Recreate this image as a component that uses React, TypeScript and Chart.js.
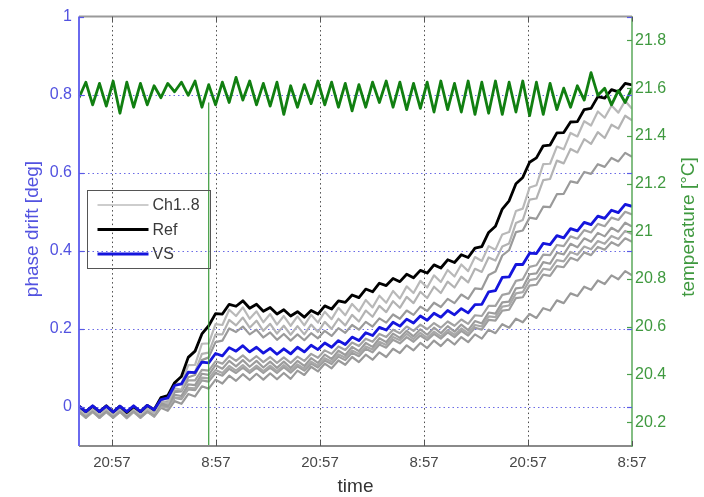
import React, { useEffect, useRef } from 'react';
import { Chart, registerables } from 'chart.js';

Chart.register(...registerables);

// time axis: hours relative to the first "20:57" tick
const START_HOUR = -3.8;
const END_HOUR = 60;
const STEP_HOURS = (END_HOUR - START_HOUR) / 81;

const X_TICK_VALUES = [0, 12, 24, 36, 48, 60];
const X_TICK_LABELS = ['20:57', '8:57', '20:57', '8:57', '20:57', '8:57'];
const LEFT_TICK_VALUES = [0, 0.2, 0.4, 0.6, 0.8, 1];
const LEFT_TICK_LABELS = ['0', '0.2', '0.4', '0.6', '0.8', '1'];
const RIGHT_TICK_VALUES = [20.2, 20.4, 20.6, 20.8, 21, 21.2, 21.4, 21.6, 21.8];
const RIGHT_TICK_LABELS = ['20.2', '20.4', '20.6', '20.8', '21', '21.2', '21.4', '21.6', '21.8'];
const LEGEND_LABELS = ['Ch1..8', 'Ref', 'VS'];

const REF = [
  0.002, -0.012, 0.002, -0.012, 0.003, -0.013, 0.002, -0.014, 0.001, -0.012,
  0.004, -0.007, 0.024, 0.029, 0.062, 0.078, 0.127, 0.143, 0.187, 0.208,
  0.239, 0.238, 0.263, 0.258, 0.272, 0.253, 0.263, 0.245, 0.255, 0.238,
  0.249, 0.233, 0.244, 0.230, 0.247, 0.238, 0.259, 0.251, 0.272, 0.268,
  0.287, 0.280, 0.302, 0.295, 0.317, 0.311, 0.329, 0.321, 0.340, 0.331,
  0.350, 0.343, 0.364, 0.356, 0.377, 0.370, 0.390, 0.383, 0.407, 0.411,
  0.447, 0.463, 0.507, 0.528, 0.572, 0.588, 0.627, 0.638, 0.669, 0.671,
  0.702, 0.703, 0.730, 0.731, 0.762, 0.765, 0.795, 0.791, 0.813, 0.807,
  0.829, 0.825,
];

const VS = [
  0.002, -0.012, 0.003, -0.012, 0.002, -0.013, 0.002, -0.012, 0.003, -0.012,
  0.004, -0.007, 0.019, 0.023, 0.055, 0.059, 0.089, 0.088, 0.115, 0.113,
  0.137, 0.131, 0.152, 0.143, 0.157, 0.141, 0.153, 0.138, 0.150, 0.135,
  0.149, 0.136, 0.153, 0.141, 0.158, 0.147, 0.164, 0.153, 0.170, 0.160,
  0.179, 0.170, 0.190, 0.183, 0.204, 0.197, 0.217, 0.207, 0.225, 0.215,
  0.233, 0.222, 0.240, 0.230, 0.247, 0.236, 0.252, 0.241, 0.262, 0.263,
  0.295, 0.298, 0.332, 0.333, 0.365, 0.365, 0.394, 0.393, 0.419, 0.416,
  0.439, 0.433, 0.457, 0.451, 0.473, 0.467, 0.489, 0.483, 0.504, 0.498,
  0.519, 0.514,
];

const CH1 = [
  -0.001, -0.016, -0.001, -0.016, -0.001, -0.016, -0.001, -0.016, -0.001, -0.016,
  -0.001, -0.012, 0.024, 0.018, 0.062, 0.058, 0.107, 0.108, 0.162, 0.163,
  0.212, 0.210, 0.249, 0.233, 0.255, 0.226, 0.245, 0.217, 0.238, 0.211,
  0.233, 0.208, 0.232, 0.209, 0.236, 0.216, 0.244, 0.225, 0.254, 0.235,
  0.264, 0.245, 0.274, 0.255, 0.285, 0.267, 0.297, 0.278, 0.309, 0.292,
  0.323, 0.306, 0.337, 0.320, 0.351, 0.334, 0.365, 0.348, 0.384, 0.374,
  0.412, 0.403, 0.442, 0.448, 0.502, 0.508, 0.562, 0.568, 0.622, 0.623,
  0.667, 0.660, 0.702, 0.693, 0.732, 0.721, 0.757, 0.741, 0.772, 0.754,
  0.784, 0.764,
];

const CH2 = [
  -0.005, -0.019, -0.005, -0.019, -0.005, -0.019, -0.005, -0.019, -0.005, -0.019,
  -0.005, -0.016, 0.016, 0.009, 0.048, 0.044, 0.088, 0.089, 0.136, 0.139,
  0.186, 0.186, 0.223, 0.209, 0.229, 0.203, 0.221, 0.195, 0.213, 0.188,
  0.208, 0.185, 0.207, 0.186, 0.211, 0.192, 0.218, 0.200, 0.226, 0.209,
  0.236, 0.219, 0.247, 0.231, 0.259, 0.243, 0.271, 0.254, 0.282, 0.266,
  0.295, 0.279, 0.308, 0.292, 0.321, 0.306, 0.334, 0.319, 0.354, 0.346,
  0.383, 0.375, 0.411, 0.419, 0.471, 0.479, 0.531, 0.534, 0.581, 0.584,
  0.631, 0.624, 0.661, 0.652, 0.686, 0.674, 0.704, 0.689, 0.723, 0.713,
  0.746, 0.734,
];

const CH3 = [
  -0.008, -0.022, -0.008, -0.022, -0.008, -0.023, -0.008, -0.022, -0.007, -0.022,
  -0.008, -0.016, 0.008, 0.007, 0.038, 0.040, 0.076, 0.082, 0.120, 0.127,
  0.166, 0.170, 0.201, 0.192, 0.206, 0.186, 0.198, 0.178, 0.191, 0.172,
  0.187, 0.170, 0.186, 0.171, 0.189, 0.176, 0.195, 0.182, 0.202, 0.190,
  0.210, 0.198, 0.218, 0.206, 0.227, 0.216, 0.237, 0.226, 0.247, 0.236,
  0.257, 0.246, 0.267, 0.256, 0.277, 0.266, 0.288, 0.277, 0.304, 0.302,
  0.338, 0.347, 0.388, 0.402, 0.448, 0.452, 0.485, 0.482, 0.513, 0.512,
  0.545, 0.546, 0.578, 0.574, 0.602, 0.597, 0.622, 0.615, 0.638, 0.629,
  0.651, 0.641,
];

const CH4 = [
  -0.005, -0.019, -0.005, -0.019, -0.006, -0.019, -0.005, -0.020, -0.005, -0.019,
  -0.005, -0.013, 0.013, 0.013, 0.041, 0.041, 0.068, 0.068, 0.095, 0.093,
  0.117, 0.111, 0.130, 0.118, 0.132, 0.117, 0.130, 0.115, 0.128, 0.113,
  0.127, 0.113, 0.129, 0.118, 0.136, 0.126, 0.145, 0.136, 0.155, 0.146,
  0.165, 0.156, 0.175, 0.167, 0.187, 0.179, 0.198, 0.189, 0.206, 0.195,
  0.211, 0.199, 0.215, 0.203, 0.219, 0.208, 0.224, 0.213, 0.235, 0.233,
  0.259, 0.259, 0.287, 0.291, 0.323, 0.327, 0.359, 0.363, 0.390, 0.389,
  0.415, 0.412, 0.437, 0.431, 0.453, 0.447, 0.469, 0.463, 0.485, 0.479,
  0.500, 0.493,
];

const CH5 = [
  -0.010, -0.026, -0.010, -0.026, -0.010, -0.027, -0.010, -0.026, -0.009, -0.026,
  -0.010, -0.020, 0.006, 0.002, 0.031, 0.028, 0.058, 0.056, 0.085, 0.082,
  0.107, 0.098, 0.118, 0.104, 0.120, 0.103, 0.118, 0.101, 0.116, 0.100,
  0.116, 0.100, 0.118, 0.105, 0.125, 0.113, 0.134, 0.123, 0.144, 0.133,
  0.154, 0.143, 0.164, 0.154, 0.176, 0.166, 0.188, 0.177, 0.195, 0.181,
  0.199, 0.185, 0.203, 0.189, 0.207, 0.193, 0.211, 0.197, 0.220, 0.214,
  0.242, 0.239, 0.268, 0.270, 0.304, 0.306, 0.340, 0.342, 0.371, 0.367,
  0.395, 0.391, 0.418, 0.409, 0.432, 0.423, 0.446, 0.437, 0.459, 0.449,
  0.472, 0.462,
];

const CH6 = [
  -0.013, -0.027, -0.013, -0.028, -0.013, -0.027, -0.013, -0.028, -0.013, -0.027,
  -0.013, -0.022, 0.001, -0.002, 0.024, 0.022, 0.049, 0.048, 0.075, 0.073,
  0.095, 0.087, 0.105, 0.093, 0.107, 0.092, 0.106, 0.092, 0.106, 0.092,
  0.107, 0.093, 0.109, 0.098, 0.116, 0.106, 0.125, 0.116, 0.135, 0.126,
  0.145, 0.136, 0.155, 0.147, 0.167, 0.159, 0.179, 0.171, 0.187, 0.174,
  0.190, 0.177, 0.193, 0.181, 0.197, 0.185, 0.201, 0.189, 0.210, 0.206,
  0.232, 0.230, 0.257, 0.260, 0.291, 0.294, 0.325, 0.328, 0.354, 0.351,
  0.376, 0.373, 0.397, 0.390, 0.411, 0.404, 0.425, 0.418, 0.438, 0.430,
  0.451, 0.443,
];

const CH7 = [
  -0.009, -0.023, -0.009, -0.024, -0.009, -0.023, -0.009, -0.023, -0.010, -0.023,
  -0.009, -0.019, 0.003, -0.001, 0.023, 0.020, 0.045, 0.043, 0.068, 0.065,
  0.087, 0.080, 0.098, 0.087, 0.101, 0.087, 0.101, 0.087, 0.101, 0.087,
  0.102, 0.088, 0.104, 0.093, 0.111, 0.101, 0.119, 0.110, 0.129, 0.120,
  0.139, 0.130, 0.149, 0.140, 0.160, 0.152, 0.172, 0.163, 0.179, 0.167,
  0.183, 0.171, 0.187, 0.175, 0.191, 0.179, 0.195, 0.183, 0.203, 0.198,
  0.223, 0.221, 0.247, 0.249, 0.279, 0.281, 0.311, 0.313, 0.339, 0.336,
  0.361, 0.358, 0.382, 0.375, 0.396, 0.389, 0.410, 0.403, 0.422, 0.413,
  0.432, 0.423,
];

const CH8 = [
  -0.012, -0.028, -0.012, -0.028, -0.013, -0.028, -0.012, -0.029, -0.012, -0.028,
  -0.012, -0.025, -0.002, -0.010, 0.015, 0.008, 0.033, 0.027, 0.053, 0.047,
  0.070, 0.060, 0.080, 0.067, 0.084, 0.069, 0.085, 0.070, 0.086, 0.071,
  0.087, 0.072, 0.093, 0.082, 0.103, 0.091, 0.111, 0.099, 0.119, 0.108,
  0.128, 0.115, 0.134, 0.121, 0.140, 0.128, 0.149, 0.138, 0.158, 0.145,
  0.164, 0.151, 0.170, 0.156, 0.174, 0.160, 0.179, 0.166, 0.186, 0.175,
  0.198, 0.189, 0.212, 0.203, 0.226, 0.217, 0.238, 0.228, 0.253, 0.247,
  0.273, 0.266, 0.291, 0.284, 0.308, 0.300, 0.324, 0.315, 0.337, 0.327,
  0.348, 0.337,
];

const TEMP = [
  21.56, 21.625, 21.53, 21.62, 21.525, 21.63, 21.495, 21.625, 21.52, 21.62,
  21.53, 21.61, 21.56, 21.62, 21.585, 21.625, 21.57, 21.63, 21.52, 21.615,
  21.53, 21.625, 21.54, 21.645, 21.55, 21.63, 21.53, 21.62, 21.525, 21.625,
  21.49, 21.61, 21.52, 21.615, 21.535, 21.63, 21.53, 21.625, 21.52, 21.62,
  21.505, 21.615, 21.52, 21.625, 21.54, 21.63, 21.52, 21.625, 21.51, 21.62,
  21.515, 21.625, 21.5, 21.63, 21.51, 21.62, 21.5, 21.63, 21.49, 21.625,
  21.495, 21.63, 21.49, 21.625, 21.5, 21.63, 21.485, 21.625, 21.49, 21.62,
  21.51, 21.6, 21.52, 21.61, 21.55, 21.665, 21.57, 21.6, 21.53, 21.59,
  21.54, 21.6,
];

// single bad temperature sample (drop-out) shown as a vertical green line
const GLITCH_INDEX = 19;
const GLITCH_TEMPS = [21.54, 20.0];

const CHANNELS = [CH1, CH2, CH3, CH4, CH5, CH6, CH7, CH8];
const CHANNEL_COLORS = ['#b9b9b9', '#b3b3b3', '#9a9a9a', '#a2a2a2', '#9c9c9c', '#a8a8a8', '#9e9e9e', '#999999'];

const FONT = '"Liberation Sans", Arial, Helvetica, sans-serif';
const BLUE_TEXT = '#5252e0';
const GREEN_TEXT = '#3f993f';

const HOURS = REF.map((_, i) => START_HOUR + i * STEP_HOURS);
const toPoints = (arr: number[]) => arr.map((v, i) => ({ x: HOURS[i], y: v }));

const framePlugin = {
  id: 'frame',
  beforeDatasetsDraw(chart: any) {
    const { ctx, chartArea: a, scales } = chart;
    const xs = scales.x;
    const ys = scales.y;
    ctx.save();
    ctx.lineWidth = 1;
    ctx.setLineDash([1.5, 3]);
    ctx.strokeStyle = '#4a4a4a';
    X_TICK_VALUES.forEach((v) => {
      const px = Math.round(xs.getPixelForValue(v)) + 0.5;
      if (px > a.right - 2 || px < a.left + 2) return;
      ctx.beginPath();
      ctx.moveTo(px, a.top);
      ctx.lineTo(px, a.bottom);
      ctx.stroke();
    });
    ctx.strokeStyle = '#6a6ae6';
    LEFT_TICK_VALUES.forEach((v) => {
      const py = Math.round(ys.getPixelForValue(v)) + 0.5;
      if (py < a.top + 2) return;
      ctx.beginPath();
      ctx.moveTo(a.left, py);
      ctx.lineTo(a.right, py);
      ctx.stroke();
    });
    ctx.restore();
  },
  afterDatasetsDraw(chart: any) {
    const { ctx, chartArea: a, scales } = chart;
    const xs = scales.x;
    const ys = scales.y;
    const y2 = scales.y2;
    ctx.save();
    ctx.setLineDash([]);
    const line = (x1: number, y1: number, x2: number, y2p: number, color: string, w: number) => {
      ctx.strokeStyle = color;
      ctx.lineWidth = w;
      ctx.beginPath();
      ctx.moveTo(x1, y1);
      ctx.lineTo(x2, y2p);
      ctx.stroke();
    };
    // frame
    line(a.left, a.top, a.right, a.top, '#9a9a9a', 2);
    line(a.left, a.bottom, a.right, a.bottom, '#8a8a8a', 2);
    line(a.left, a.top, a.left, a.bottom, '#6a6aee', 2);
    line(a.right, a.top, a.right, a.bottom + 1, '#5aa85a', 1.5);
    // tick marks (inward)
    X_TICK_VALUES.forEach((v) => {
      const px = Math.round(xs.getPixelForValue(v)) + 0.5;
      line(px, a.bottom, px, a.bottom - 5, '#555', 1);
      line(px, a.top, px, a.top + 5, '#555', 1);
    });
    LEFT_TICK_VALUES.forEach((v) => {
      const py = Math.round(ys.getPixelForValue(v)) + 0.5;
      line(a.left, py, a.left + 5, py, '#5a5ae6', 1.2);
      line(a.right - 5, py, a.right, py, '#5a5ae6', 1.2);
    });
    RIGHT_TICK_VALUES.forEach((v) => {
      const py = Math.round(y2.getPixelForValue(v)) + 0.5;
      line(a.right - 5, py, a.right, py, '#4a9f4a', 1.2);
    });
    // legend
    const lx = a.left + 8.5;
    const ly = 190.5;
    ctx.strokeStyle = '#555';
    ctx.lineWidth = 1;
    ctx.strokeRect(lx, ly, 123, 78);
    const entries = [
      { label: LEGEND_LABELS[0], color: '#bdbdbd', width: 1.3, y: 205 },
      { label: LEGEND_LABELS[1], color: '#000000', width: 3, y: 229.5 },
      { label: LEGEND_LABELS[2], color: '#1515dd', width: 3, y: 254 },
    ];
    ctx.font = `16px ${FONT}`;
    ctx.textBaseline = 'middle';
    ctx.textAlign = 'left';
    entries.forEach((e) => {
      line(lx + 10, e.y, lx + 61, e.y, e.color, e.width);
      ctx.fillStyle = '#3a3a3a';
      ctx.fillText(e.label, lx + 65, e.y + 1);
    });
    // axis titles
    ctx.font = `19px ${FONT}`;
    ctx.textAlign = 'center';
    ctx.textBaseline = 'middle';
    ctx.fillStyle = BLUE_TEXT;
    ctx.save();
    ctx.translate(33, 229);
    ctx.rotate(-Math.PI / 2);
    ctx.fillText('phase drift [deg]', 0, 0);
    ctx.restore();
    ctx.fillStyle = GREEN_TEXT;
    ctx.save();
    ctx.translate(689, 227);
    ctx.rotate(-Math.PI / 2);
    ctx.fillText('temperature [°C]', 0, 0);
    ctx.restore();
    ctx.fillStyle = '#333';
    ctx.fillText('time', (a.left + a.right) / 2, 487);
    ctx.restore();
  },
};

export default function App() {
  const ref = useRef<HTMLCanvasElement | null>(null);
  useEffect(() => {
    document.body.style.margin = '0';
    const canvas = ref.current;
    if (!canvas) return;
    const datasets: any[] = [];
    CHANNELS.forEach((ch, k) => {
      datasets.push({
        label: `Ch${k + 1}`,
        data: toPoints(ch),
        borderColor: CHANNEL_COLORS[k],
        borderWidth: 2.2,
        borderJoinStyle: 'round',
        pointRadius: 0,
        tension: 0,
        yAxisID: 'y',
        order: 5,
      });
    });
    datasets.push({
      label: 'Ref', data: toPoints(REF), borderColor: '#000000', borderWidth: 2.8, borderJoinStyle: 'round',
      pointRadius: 0, tension: 0, yAxisID: 'y', order: 4,
    });
    datasets.push({
      label: 'VS', data: toPoints(VS), borderColor: '#1515dd', borderWidth: 2.8, borderJoinStyle: 'round',
      pointRadius: 0, tension: 0, yAxisID: 'y', order: 3,
    });
    datasets.push({
      label: 'temperature', data: toPoints(TEMP), borderColor: '#117f11', borderWidth: 2.8, borderJoinStyle: 'round',
      pointRadius: 0, tension: 0, yAxisID: 'y2', order: 2,
    });
    datasets.push({
      label: 'temperature glitch',
      data: GLITCH_TEMPS.map((t) => ({ x: HOURS[GLITCH_INDEX], y: t })),
      borderColor: '#3a9a3a', borderWidth: 1.2, pointRadius: 0, yAxisID: 'y2', order: 1,
    });

    const chart = new Chart(canvas, {
      type: 'line',
      data: { datasets },
      options: {
        animation: false,
        responsive: false,
        events: [],
        layout: { padding: { top: 14, left: 0, right: 0, bottom: 0 } },
        plugins: { legend: { display: false }, tooltip: { enabled: false } },
        scales: {
          x: {
            type: 'linear',
            min: START_HOUR,
            max: END_HOUR,
            grid: { display: false, drawTicks: false },
            border: { display: false },
            afterBuildTicks: (s: any) => { s.ticks = X_TICK_VALUES.map((v) => ({ value: v })); },
            afterFit: (s: any) => { s.height = 51; },
            ticks: {
              autoSkip: false, maxRotation: 0, minRotation: 0, padding: 8, color: '#474747',
              font: { family: FONT, size: 15 },
              callback: (_v: any, i: number) => X_TICK_LABELS[i],
            },
          },
          y: {
            type: 'linear',
            position: 'left',
            min: -0.1,
            max: 1,
            grid: { display: false, drawTicks: false },
            border: { display: false },
            afterBuildTicks: (s: any) => { s.ticks = LEFT_TICK_VALUES.map((v) => ({ value: v })); },
            afterFit: (s: any) => { s.width = 79; },
            ticks: {
              autoSkip: false, padding: 7, color: BLUE_TEXT,
              font: { family: FONT, size: 16 },
              callback: (_v: any, i: number) => LEFT_TICK_LABELS[i],
            },
          },
          y2: {
            type: 'linear',
            position: 'right',
            min: 20.1,
            max: 21.9,
            grid: { display: false, drawTicks: false },
            border: { display: false },
            afterBuildTicks: (s: any) => { s.ticks = RIGHT_TICK_VALUES.map((v) => ({ value: v })); },
            afterFit: (s: any) => { s.width = 72; },
            ticks: {
              autoSkip: false, padding: 3, color: GREEN_TEXT,
              font: { family: FONT, size: 16 },
              callback: (_v: any, i: number) => RIGHT_TICK_LABELS[i],
            },
          },
        },
      },
      plugins: [framePlugin],
    });
    return () => chart.destroy();
  }, []);

  return (
    <div style={{ width: 704, height: 497, background: '#ffffff' }}>
      <canvas ref={ref} width={704} height={497} />
    </div>
  );
}
